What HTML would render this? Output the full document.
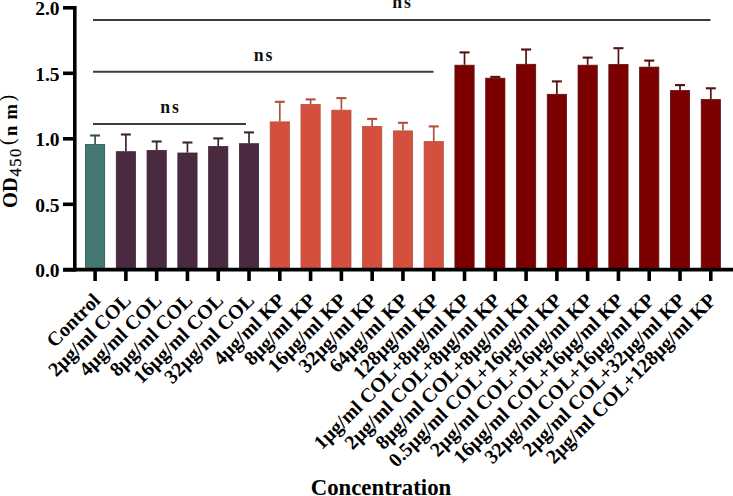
<!DOCTYPE html>
<html><head><meta charset="utf-8"><style>
html,body{margin:0;padding:0;background:#fff;}
body{width:733px;height:496px;overflow:hidden;}
svg{display:block;}
</style></head><body>
<svg width="733" height="496" viewBox="0 0 733 496">
<g stroke="#3c3c3c" stroke-width="2">
<line x1="93" y1="19.9" x2="710.5" y2="19.9"/>
<line x1="93" y1="71.8" x2="433.5" y2="71.8"/>
<line x1="93" y1="124.1" x2="246" y2="124.1"/>
</g>
<g font-family="Liberation Serif, serif" font-weight="bold" font-size="17.8" fill="#111" text-anchor="start" letter-spacing="2.0">
<text x="392.2" y="8.2">ns</text>
<text x="253.7" y="60.8">ns</text>
<text x="160.2" y="113">ns</text>
</g>
<rect x="85.50" y="144.50" width="19.2" height="125.50" fill="#437873" stroke="#30524f" stroke-width="0.8"/>
<g stroke="#30524f"><line x1="95.10" y1="135.50" x2="95.10" y2="144.10" stroke-width="1.7"/><line x1="90.10" y1="135.50" x2="100.10" y2="135.50" stroke-width="2.1"/></g>
<rect x="116.28" y="151.70" width="19.2" height="118.30" fill="#4a2a40" stroke="#3c2434" stroke-width="0.8"/>
<g stroke="#3c2434"><line x1="125.88" y1="134.50" x2="125.88" y2="151.30" stroke-width="1.7"/><line x1="120.88" y1="134.50" x2="130.88" y2="134.50" stroke-width="2.1"/></g>
<rect x="147.07" y="150.40" width="19.2" height="119.60" fill="#4a2a40" stroke="#3c2434" stroke-width="0.8"/>
<g stroke="#3c2434"><line x1="156.67" y1="141.50" x2="156.67" y2="150.00" stroke-width="1.7"/><line x1="151.67" y1="141.50" x2="161.67" y2="141.50" stroke-width="2.1"/></g>
<rect x="177.85" y="153.00" width="19.2" height="117.00" fill="#4a2a40" stroke="#3c2434" stroke-width="0.8"/>
<g stroke="#3c2434"><line x1="187.45" y1="142.50" x2="187.45" y2="152.60" stroke-width="1.7"/><line x1="182.45" y1="142.50" x2="192.45" y2="142.50" stroke-width="2.1"/></g>
<rect x="208.64" y="146.50" width="19.2" height="123.50" fill="#4a2a40" stroke="#3c2434" stroke-width="0.8"/>
<g stroke="#3c2434"><line x1="218.24" y1="138.40" x2="218.24" y2="146.10" stroke-width="1.7"/><line x1="213.24" y1="138.40" x2="223.24" y2="138.40" stroke-width="2.1"/></g>
<rect x="239.42" y="143.70" width="19.2" height="126.30" fill="#4a2a40" stroke="#3c2434" stroke-width="0.8"/>
<g stroke="#3c2434"><line x1="249.02" y1="132.40" x2="249.02" y2="143.30" stroke-width="1.7"/><line x1="244.02" y1="132.40" x2="254.02" y2="132.40" stroke-width="2.1"/></g>
<rect x="270.21" y="121.90" width="19.2" height="148.10" fill="#d44f3e" stroke="#b0503f" stroke-width="0.8"/>
<g stroke="#b0503f"><line x1="279.81" y1="101.80" x2="279.81" y2="121.50" stroke-width="1.7"/><line x1="274.81" y1="101.80" x2="284.81" y2="101.80" stroke-width="2.1"/></g>
<rect x="300.99" y="104.50" width="19.2" height="165.50" fill="#d44f3e" stroke="#b0503f" stroke-width="0.8"/>
<g stroke="#b0503f"><line x1="310.59" y1="99.40" x2="310.59" y2="104.10" stroke-width="1.7"/><line x1="305.59" y1="99.40" x2="315.59" y2="99.40" stroke-width="2.1"/></g>
<rect x="331.78" y="110.20" width="19.2" height="159.80" fill="#d44f3e" stroke="#b0503f" stroke-width="0.8"/>
<g stroke="#b0503f"><line x1="341.38" y1="98.10" x2="341.38" y2="109.80" stroke-width="1.7"/><line x1="336.38" y1="98.10" x2="346.38" y2="98.10" stroke-width="2.1"/></g>
<rect x="362.56" y="126.50" width="19.2" height="143.50" fill="#d44f3e" stroke="#b0503f" stroke-width="0.8"/>
<g stroke="#b0503f"><line x1="372.16" y1="118.90" x2="372.16" y2="126.10" stroke-width="1.7"/><line x1="367.16" y1="118.90" x2="377.16" y2="118.90" stroke-width="2.1"/></g>
<rect x="393.35" y="130.90" width="19.2" height="139.10" fill="#d44f3e" stroke="#b0503f" stroke-width="0.8"/>
<g stroke="#b0503f"><line x1="402.95" y1="122.80" x2="402.95" y2="130.50" stroke-width="1.7"/><line x1="397.95" y1="122.80" x2="407.95" y2="122.80" stroke-width="2.1"/></g>
<rect x="424.13" y="141.60" width="19.2" height="128.40" fill="#d44f3e" stroke="#b0503f" stroke-width="0.8"/>
<g stroke="#b0503f"><line x1="433.74" y1="126.40" x2="433.74" y2="141.20" stroke-width="1.7"/><line x1="428.74" y1="126.40" x2="438.74" y2="126.40" stroke-width="2.1"/></g>
<rect x="454.92" y="65.20" width="19.2" height="204.80" fill="#7d0000" stroke="#561010" stroke-width="0.8"/>
<g stroke="#561010"><line x1="464.52" y1="52.40" x2="464.52" y2="64.80" stroke-width="1.7"/><line x1="459.52" y1="52.40" x2="469.52" y2="52.40" stroke-width="2.1"/></g>
<rect x="485.70" y="78.20" width="19.2" height="191.80" fill="#7d0000" stroke="#561010" stroke-width="0.8"/>
<g stroke="#561010"><line x1="495.30" y1="76.90" x2="495.30" y2="77.80" stroke-width="1.7"/><line x1="490.30" y1="76.90" x2="500.30" y2="76.90" stroke-width="2.1"/></g>
<rect x="516.49" y="64.30" width="19.2" height="205.70" fill="#7d0000" stroke="#561010" stroke-width="0.8"/>
<g stroke="#561010"><line x1="526.09" y1="49.50" x2="526.09" y2="63.90" stroke-width="1.7"/><line x1="521.09" y1="49.50" x2="531.09" y2="49.50" stroke-width="2.1"/></g>
<rect x="547.27" y="94.30" width="19.2" height="175.70" fill="#7d0000" stroke="#561010" stroke-width="0.8"/>
<g stroke="#561010"><line x1="556.88" y1="81.40" x2="556.88" y2="93.90" stroke-width="1.7"/><line x1="551.88" y1="81.40" x2="561.88" y2="81.40" stroke-width="2.1"/></g>
<rect x="578.06" y="65.20" width="19.2" height="204.80" fill="#7d0000" stroke="#561010" stroke-width="0.8"/>
<g stroke="#561010"><line x1="587.66" y1="57.60" x2="587.66" y2="64.80" stroke-width="1.7"/><line x1="582.66" y1="57.60" x2="592.66" y2="57.60" stroke-width="2.1"/></g>
<rect x="608.84" y="64.50" width="19.2" height="205.50" fill="#7d0000" stroke="#561010" stroke-width="0.8"/>
<g stroke="#561010"><line x1="618.44" y1="48.20" x2="618.44" y2="64.10" stroke-width="1.7"/><line x1="613.44" y1="48.20" x2="623.44" y2="48.20" stroke-width="2.1"/></g>
<rect x="639.63" y="67.10" width="19.2" height="202.90" fill="#7d0000" stroke="#561010" stroke-width="0.8"/>
<g stroke="#561010"><line x1="649.23" y1="60.60" x2="649.23" y2="66.70" stroke-width="1.7"/><line x1="644.23" y1="60.60" x2="654.23" y2="60.60" stroke-width="2.1"/></g>
<rect x="670.41" y="90.60" width="19.2" height="179.40" fill="#7d0000" stroke="#561010" stroke-width="0.8"/>
<g stroke="#561010"><line x1="680.01" y1="85.10" x2="680.01" y2="90.20" stroke-width="1.7"/><line x1="675.01" y1="85.10" x2="685.01" y2="85.10" stroke-width="2.1"/></g>
<rect x="701.20" y="99.60" width="19.2" height="170.40" fill="#7d0000" stroke="#561010" stroke-width="0.8"/>
<g stroke="#561010"><line x1="710.80" y1="88.30" x2="710.80" y2="99.20" stroke-width="1.7"/><line x1="705.80" y1="88.30" x2="715.80" y2="88.30" stroke-width="2.1"/></g>
<g stroke="#000" stroke-width="3.6">
<line x1="74.8" y1="6" x2="74.8" y2="271.40000000000003"/>
<line x1="63" y1="269.6" x2="733" y2="269.6"/>
<line x1="63" y1="269.80" x2="74.8" y2="269.80"/>
<line x1="63" y1="204.30" x2="74.8" y2="204.30"/>
<line x1="63" y1="138.80" x2="74.8" y2="138.80"/>
<line x1="63" y1="73.30" x2="74.8" y2="73.30"/>
<line x1="63" y1="7.80" x2="74.8" y2="7.80"/>
<line x1="95.10" y1="269.6" x2="95.10" y2="281"/>
<line x1="125.88" y1="269.6" x2="125.88" y2="281"/>
<line x1="156.67" y1="269.6" x2="156.67" y2="281"/>
<line x1="187.45" y1="269.6" x2="187.45" y2="281"/>
<line x1="218.24" y1="269.6" x2="218.24" y2="281"/>
<line x1="249.02" y1="269.6" x2="249.02" y2="281"/>
<line x1="279.81" y1="269.6" x2="279.81" y2="281"/>
<line x1="310.59" y1="269.6" x2="310.59" y2="281"/>
<line x1="341.38" y1="269.6" x2="341.38" y2="281"/>
<line x1="372.16" y1="269.6" x2="372.16" y2="281"/>
<line x1="402.95" y1="269.6" x2="402.95" y2="281"/>
<line x1="433.74" y1="269.6" x2="433.74" y2="281"/>
<line x1="464.52" y1="269.6" x2="464.52" y2="281"/>
<line x1="495.30" y1="269.6" x2="495.30" y2="281"/>
<line x1="526.09" y1="269.6" x2="526.09" y2="281"/>
<line x1="556.88" y1="269.6" x2="556.88" y2="281"/>
<line x1="587.66" y1="269.6" x2="587.66" y2="281"/>
<line x1="618.44" y1="269.6" x2="618.44" y2="281"/>
<line x1="649.23" y1="269.6" x2="649.23" y2="281"/>
<line x1="680.01" y1="269.6" x2="680.01" y2="281"/>
<line x1="710.80" y1="269.6" x2="710.80" y2="281"/>
</g>
<g font-family="Liberation Serif, serif" font-weight="bold" font-size="19.5" fill="#000" text-anchor="end">
<text x="59.5" y="277.00">0.0</text>
<text x="59.5" y="211.50">0.5</text>
<text x="59.5" y="146.00">1.0</text>
<text x="59.5" y="80.50">1.5</text>
<text x="59.5" y="15.00">2.0</text>
</g>
<g font-family="Liberation Serif, serif" font-weight="bold" font-size="20.0" fill="#000" text-anchor="end">
<text transform="translate(101.40,301.60) rotate(-45)">Control</text>
<text transform="translate(132.19,301.60) rotate(-45)">2μg/ml COL</text>
<text transform="translate(162.97,301.60) rotate(-45)">4μg/ml COL</text>
<text transform="translate(193.75,301.60) rotate(-45)">8μg/ml COL</text>
<text transform="translate(224.54,301.60) rotate(-45)">16μg/ml COL</text>
<text transform="translate(255.32,301.60) rotate(-45)">32μg/ml COL</text>
<text transform="translate(286.11,301.60) rotate(-45)">4μg/ml KP</text>
<text transform="translate(316.89,301.60) rotate(-45)">8μg/ml KP</text>
<text transform="translate(347.68,301.60) rotate(-45)">16μg/ml KP</text>
<text transform="translate(378.46,301.60) rotate(-45)">32μg/ml KP</text>
<text transform="translate(409.25,301.60) rotate(-45)">64μg/ml KP</text>
<text transform="translate(440.04,301.60) rotate(-45)">128μg/ml KP</text>
<text transform="translate(470.82,301.60) rotate(-45)">1μg/ml COL+8μg/ml KP</text>
<text transform="translate(501.60,301.60) rotate(-45)">2μg/ml COL+8μg/ml KP</text>
<text transform="translate(532.39,301.60) rotate(-45)">8μg/ml COL+8μg/ml KP</text>
<text transform="translate(563.17,301.60) rotate(-45)">0.5μg/ml COL+16μg/ml KP</text>
<text transform="translate(593.96,301.60) rotate(-45)">2μg/ml COL+16μg/ml KP</text>
<text transform="translate(624.74,301.60) rotate(-45)">16μg/ml COL+16μg/ml KP</text>
<text transform="translate(655.53,301.60) rotate(-45)">32μg/ml COL+16μg/ml KP</text>
<text transform="translate(686.31,301.60) rotate(-45)">2μg/ml COL+32μg/ml KP</text>
<text transform="translate(717.10,301.60) rotate(-45)">2μg/ml COL+128μg/ml KP</text>
</g>
<g transform="translate(17.3,208.0) rotate(-90)" font-family="Liberation Serif, serif" fill="#000">
<text x="0" y="0" font-weight="bold" font-size="20.5">OD</text>
<text x="31.6" y="4" font-size="16.5" letter-spacing="1.4" stroke="#000" stroke-width="0.25">450</text>
<text x="63" y="-3.2" font-size="20" font-weight="normal">(</text>
<text x="72" y="0" font-weight="bold" font-size="18.5">n</text>
<text x="88.5" y="0" font-weight="bold" font-size="18.5">m</text>
<text x="106.5" y="-3.2" font-size="20" font-weight="normal">)</text>
</g>
<text x="381" y="494.8" font-family="Liberation Serif, serif" font-weight="bold" font-size="22.8" text-anchor="middle" fill="#000">Concentration</text>
</svg>
</body></html>
